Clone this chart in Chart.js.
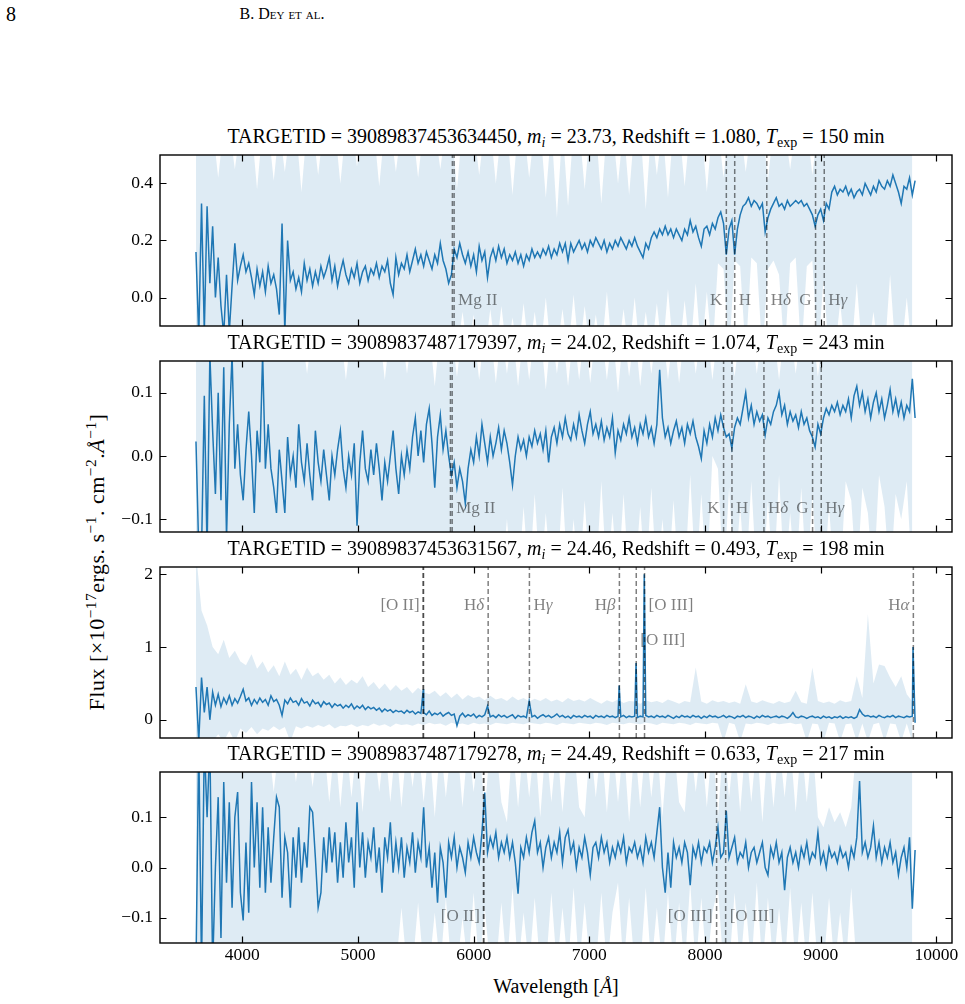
<!DOCTYPE html>
<html lang="en">
<head>
<meta charset="utf-8">
<title>Spectra</title>
<script src="https://cdn.jsdelivr.net/npm/chart.js"></script>
<style>
  body { margin: 0; width: 965px; height: 1004px; position: relative; overflow: hidden; background: #fff;
         font-family: "Liberation Serif", "Times New Roman", serif; color: #000; }
  .txt { position: absolute; white-space: nowrap; }
  .ptitle { left: 160px; width: 792px; text-align: center; font-size: 20px; line-height: 20px; }
  sub { font-size: 70%; vertical-align: -0.3em; line-height: 0; }
  sup { font-size: 70%; vertical-align: 0.5em; line-height: 0; }
  canvas { position: absolute; left: 0; }
</style>
</head>
<body>

<div class="txt" style="left:6px; top:4px; font-size:20px; line-height:20px;">8</div>
<div class="txt" style="left:182px; width:200px; text-align:center; top:6px; font-size:16px; line-height:16px; font-variant:small-caps;">B. Dey et al.</div>
<div class="txt" id="ylab" style="left:97px; top:562px; font-size:22px; line-height:22px; letter-spacing:0.5px; transform:translate(-50%,-50%) rotate(-90deg);">Flux [×10<sup>−17</sup>ergs. s<sup>−1</sup>. cm<sup>−2</sup>.<i>Å</i><sup>−1</sup>]</div>
<div class="txt" style="left:160px; width:792px; text-align:center; top:976px; font-size:20px; line-height:20px;">Wavelength [<i>Å</i>]</div>

<script>
// ---- data ----
var xTicks = [4000, 5000, 6000, 7000, 8000, 9000, 10000];
var WAVE0 = 3600, DWAVE = 24, BAND_DWAVE = 48;   // sampling of the spectra / error band

var targetIds = ['39089837453634450', '39089837487179397', '39089837453631567', '39089837487179278'];
var magI = ['23.73', '24.02', '24.46', '24.49'];
var redshifts = [1.080, 1.074, 0.493, 0.633];
var texpMin = [150, 243, 198, 217];

var yTicksA = [0, 0.2, 0.4];
var yTicksB = [-0.1, 0, 0.1];
var yTicksC = [0, 1, 2];
var yTicksD = [-0.1, 0, 0.1];

var fluxA = [
 .16,-.14,.33,-.12,.32,.05,.25,0,.14,-.03,
 -.13,.08,-.12,.04,.19,.06,.11,.15,.09,.12,
 .07,.01,.10,.04,.09,.02,.11,.05,.08,.03,
 -.06,.26,-.12,.20,.06,.09,.03,.07,.02,.12,
 .06,.10,.04,.09,.05,.11,.07,.10,.14,.06,
 .11,.04,.09,.13,.08,.05,.10,.07,.12,.05,
 .09,.11,.06,.10,.08,.12,.07,.11,.09,.13,
 .05,.01,.14,.08,.12,.10,.15,.09,.13,.17,
 .12,.15,.11,.16,.13,.10,.15,.12,.19,.13,
 .10,.05,.08,.17,.14,.19,.15,.12,.16,.11,
 .15,.09,.18,.13,.16,.07,.14,.17,.13,.18,
 .14,.17,.12,.15,.13,.16,.12,.15,.11,.15,
 .13,.17,.14,.16,.14,.17,.15,.18,.14,.17,
 .15,.19,.16,.19,.13,.19,.16,.18,.20,.17,
 .19,.16,.20,.18,.21,.19,.17,.20,.16,.19,
 .17,.20,.18,.21,.19,.17,.20,.18,.21,.18,
 .16,.14,.19,.17,.21,.23,.21,.24,.22,.25,
 .22,.24,.21,.24,.22,.20,.24,.22,.27,.23,
 .25,.21,.18,.24,.25,.22,.26,.24,.28,.30,
 .26,.15,.24,.27,.15,.24,.29,.32,.33,.35,
 .32,.34,.33,.31,.33,.23,.28,.31,.33,.35,
 .32,.33,.31,.34,.32,.33,.34,.33,.34,.32,
 .33,.31,.29,.25,.29,.31,.27,.33,.31,.37,
 .39,.36,.38,.37,.39,.36,.38,.35,.37,.38,
 .36,.40,.38,.36,.39,.37,.41,.39,.38,.41,
 .39,.43,.40,.37,.33,.39,.38,.42,.36,.41
];
var bandHiA = [
 .6,.6,.6,.6,.42,.6,.6,.45,.6,.6,
 .6,.38,.6,.6,.41,.6,.44,.6,.6,.37,
 .6,.6,.43,.6,.6,.6,.40,.6,.6,.46,
 .6,.6,.6,.39,.6,.6,.44,.6,.6,.6,
 .42,.6,.6,.6,.45,.6,.6,.38,.6,.6,
 .6,.43,.6,.6,.40,.6,.6,.36,.6,.6,
 .42,.6,.6,.35,.6,.28,.6,.32,.6,.6,
 .38,.6,.6,.33,.6,.6,.40,.6,.36,.6,
 .6,.31,.6,.43,.6,.35,.6,.6,.39,.6,
 .6,.6,.37,.6,.6,.42,.6,.6,.6,.44,
 .6,.6,.6,.41,.6,.6,.6,.45,.6,.6,
 .6,.43,.6,.6,.6,.6,.6,.6,.6,.6,
 .6,.6,.6,.6,.6,.6,.6,.6,.6,.6
];
var bandLoA = [
 -.2,-.2,-.2,-.2,-.2,-.2,-.2,-.2,-.2,-.2,
 -.2,-.2,-.2,-.2,-.2,-.2,-.2,-.2,-.2,-.2,
 -.2,-.2,-.2,-.2,-.2,-.2,-.2,-.2,-.2,-.2,
 -.2,-.2,-.2,-.2,-.2,-.2,-.2,-.2,-.2,-.2,
 -.2,-.2,-.2,-.2,-.2,-.2,-.2,-.2,-.05,-.2,
 -.06,-.2,-.2,-.04,-.2,-.03,-.2,-.07,-.2,-.02,
 -.2,-.05,-.2,0,-.2,-.2,-.04,-.2,.01,-.2,
 -.03,-.2,-.06,-.2,.02,-.2,-.2,-.04,-.2,0,
 -.2,-.05,-.2,-.02,-.2,.03,-.2,-.2,-.01,-.2,
 .05,-.2,.02,-.2,.12,.10,-.2,.13,.11,-.2,
 .14,.12,-.2,.10,.13,.08,-.2,.12,.14,-.2,
 .11,.13,-.2,.06,-.2,-.2,-.02,-.2,-.2,.05,
 -.2,-.2,-.05,-.2,-.2,.08,-.2,-.2,0,-.2
];

var fluxB = [
 .023,-.15,-.15,.095,-.15,.16,.04,-.06,.10,-.07,
 .14,-.13,.05,.16,-.02,.05,-.03,-.07,.01,.07,
 0,-.09,.04,-.01,.16,-.02,.05,-.02,-.05,-.09,
 .01,-.04,-.09,.03,-.03,0,-.05,.05,-.01,-.04,
 .02,-.03,-.07,.04,-.01,-.04,.01,-.03,-.07,0,
 -.03,.01,.04,-.02,-.05,0,-.03,.02,-.11,-.01,
 .04,-.02,-.04,.01,-.03,.02,-.02,-.07,-.01,-.04,
 0,.04,-.02,-.06,0,-.03,.01,-.02,.03,.06,
 0,.04,-.01,.05,.075,.02,-.05,.03,.065,.01,
 .04,0,-.03,-.01,-.05,-.02,-.04,-.075,-.02,.01,
 -.01,.03,0,.05,.02,-.01,.03,0,.02,.045,
 .01,.04,.02,-.01,-.046,0,.03,.01,.025,0,
 .03,.015,.04,.02,.035,.01,.04,-.01,.03,.045,
 .02,.05,.03,.06,.035,.025,.05,.03,.065,.04,
 .02,.05,.07,.035,.05,.03,.055,.025,.045,.03,
 .06,.005,.04,.025,.05,.035,.06,.03,.045,.02,
 .05,.035,.06,.03,.045,.02,.05,.136,.06,.03,
 .045,.02,.04,.055,.03,.045,.02,.05,.035,.055,
 .03,.015,-.004,.04,.02,.05,.03,.06,.04,.065,
 .045,.03,.035,.012,.045,.06,.05,.075,.1,.06,
 .08,.05,.07,.055,.065,.033,.06,.05,.07,.08,
 .1,.065,.08,.05,.07,.055,.065,.045,.07,.05,
 .06,.04,.03,.014,.05,.035,.06,.075,.065,.08,
 .07,.085,.065,.08,.07,.09,.06,.095,.11,.08,
 .1,.07,.09,.06,.085,.1,.07,.09,.06,.08,
 .105,.07,.09,.065,.085,.06,.08,.07,.122,.06
];
var bandHiB = [
 .2,.2,.2,.2,.2,.2,.2,.2,.2,.2,
 .2,.2,.2,.2,.2,.2,.2,.2,.2,.2,
 .13,.2,.2,.2,.2,.2,.2,.12,.2,.2,
 .2,.2,.2,.2,.12,.2,.2,.2,.13,.2,
 .2,.2,.2,.11,.2,.2,.2,.125,.2,.2,
 .2,.12,.2,.2,.115,.2,.13,.2,.11,.2,
 .12,.2,.2,.105,.2,.13,.2,.11,.2,.12,
 .2,.115,.2,.2,.12,.2,.1,.2,.125,.2,
 .11,.2,.13,.2,.2,.12,.2,.115,.2,.2,
 .13,.2,.2,.12,.2,.2,.2,.125,.2,.2,
 .2,.13,.2,.2,.2,.12,.2,.2,.13,.2,
 .2,.2,.125,.2,.2,.2,.2,.2,.2,.2,
 .2,.2,.2,.2,.2,.2,.2,.2,.2,.2
];
var bandLoB = [
 -.2,-.2,-.2,-.2,-.2,-.2,-.2,-.2,-.2,-.2,
 -.2,-.2,-.2,-.2,-.2,-.2,-.2,-.2,-.2,-.2,
 -.2,-.2,-.2,-.2,-.2,-.2,-.2,-.2,-.2,-.2,
 -.2,-.2,-.2,-.2,-.2,-.2,-.2,-.2,-.2,-.2,
 -.2,-.2,-.2,-.2,-.2,-.2,-.2,-.2,-.2,-.2,
 -.2,-.2,-.2,-.2,-.2,-.2,-.1,-.2,-.2,-.08,
 -.2,-.06,-.2,-.09,-.2,-.2,-.05,-.2,-.1,-.2,
 -.07,-.2,-.2,-.04,-.2,-.09,-.2,-.06,-.2,-.2,
 -.08,-.2,-.05,-.2,-.1,-.2,-.07,-.2,-.2,-.03,
 -.2,-.06,-.2,0,-.02,-.2,-.05,-.2,-.08,-.2,
 -.04,-.2,-.2,-.07,-.2,-.03,-.2,-.09,-.2,-.05,
 -.2,-.06,-.2,-.2,-.08,-.2,-.2,-.04,-.07,-.2,
 -.05,-.09,-.2,-.03,-.08,-.2,-.06,-.1,-.04,-.2
];

var fluxC = [
 .45,-.3,.58,.1,.45,0,.38,.2,.35,.18,
 .3,.22,.33,.2,.29,.23,.32,.42,.26,.3,
 .2,.28,.22,.3,.24,.28,.2,.33,.25,.28,
 .2,.06,.27,.22,.3,.24,.26,.2,.29,.23,
 .25,.19,.27,.22,.24,.18,.25,.21,.23,.17,
 .22,.19,.21,.16,.2,.17,.22,.15,.19,.16,
 .2,.14,.18,.15,.17,.13,.16,.11,.15,.12,
 .14,.1,.13,.11,.12,.09,.13,.1,.12,.08,
 .11,.09,.1,.07,.12,.06,.09,.07,.1,.05,
 .08,.1,.06,.08,-.08,.05,.09,.04,.07,.05,
 .08,.03,.06,.04,.07,.19,.04,.06,.03,.07,
 .04,.06,.03,.05,.07,.02,.06,.04,.05,.03,
 .26,.04,.06,.02,.05,.07,.04,.06,.03,.05,
 .08,.04,.06,.03,.05,.02,.06,.04,.05,.03,
 .06,.04,.05,.02,.06,.04,.05,.03,.06,.04,
 .05,.03,.05,.04,.06,.03,.05,.04,.05,.03,
 .05,.04,.06,.04,.05,.03,.06,.04,.05,.03,
 .06,.04,.02,.05,.03,.06,.04,.05,.03,.06,
 .04,.05,.02,.05,.03,.06,.04,.05,.03,.04,
 .06,.03,.05,.04,.02,.05,.04,.06,.03,.05,
 .04,.02,.05,.03,.06,.04,.05,.03,.04,.05,
 .03,.05,.04,.02,.05,.1,.04,.03,.05,.04,
 .02,.04,.05,.03,.04,.02,.05,.03,.04,.02,
 .04,.03,.05,.02,.04,.03,.04,.02,.04,.14,
 .08,.05,.06,.04,.05,.03,.06,.04,.03,.05,
 .04,.06,.03,.05,.04,.03,.05,.04,.05,-.04
];
// narrow emission peaks of the third spectrum
var peakWaveC = [5565, 7258, 7404, 7475, 9798];
var peakFluxC = [0.42, 0.47, 0.78, 2.0, 1.0];
var bandHiC = [
 2.3,1.5,1.3,1.0,.9,1.1,.85,.95,.8,.75,
 .9,.7,.8,.65,.75,.6,.8,.62,.7,.55,
 .72,.6,.65,.55,.62,.5,.58,.48,.55,.5,
 .6,.45,.52,.42,.5,.4,.48,.4,.45,.36,
 .44,.38,.35,.4,.32,.38,.3,.36,.28,.34,
 .3,.32,.27,.33,.28,.3,.26,.32,.27,.3,
 .25,.29,.26,.3,.25,.28,.24,.3,.26,.28,
 .25,.3,.26,.22,.27,.24,.28,.23,.26,.25,
 .22,.27,.24,.26,.23,.28,.25,.22,.26,.24,
 .72,.25,.22,.27,.24,.26,.23,.25,.22,.49,
 .25,.23,.27,.24,.22,.26,.23,.25,.4,.24,
 .22,.72,.26,.23,.25,.22,.27,.24,.26,.6,
 .3,1.45,.5,.76,.74,.58,.45,.6,.35,.25
];
var bandLoC = [
 -.3,-.3,-.3,-.3,-.2,-.3,-.15,-.3,-.12,-.18,
 -.1,-.2,-.12,-.15,-.09,-.14,-.1,-.3,-.09,-.12,
 -.08,-.11,-.07,-.1,-.06,-.12,-.08,-.09,-.06,-.1,
 -.07,-.09,-.05,-.08,-.06,-.1,-.05,-.07,-.06,-.08,
 -.05,-.07,-.04,-.06,-.05,-.08,-.04,-.06,-.05,-.07,
 -.04,-.06,-.05,-.07,-.04,-.05,-.06,-.04,-.05,-.06,
 -.04,-.05,-.06,-.04,-.05,-.07,-.04,-.05,-.06,-.04,
 -.05,-.06,-.04,-.05,-.07,-.04,-.05,-.06,-.04,-.05,
 -.06,-.04,-.05,-.07,-.04,-.05,-.06,-.04,-.05,-.07,
 -.04,-.05,-.06,-.04,-.05,-.3,-.04,-.06,-.3,-.05,
 -.06,-.04,-.05,-.07,-.04,-.06,-.05,-.04,-.06,-.05,
 -.3,-.05,-.06,-.3,-.04,-.05,-.3,-.06,-.05,-.3,
 -.05,-.3,-.06,-.04,-.3,-.05,-.06,-.3,-.05,-.3
];

var fluxD = [
 -.2,.25,-.2,.25,.1,.25,-.2,0,.14,-.14,
 .17,-.03,.13,-.08,.1,.15,-.05,-.105,.05,-.09,
 .17,0,.13,-.04,.12,-.05,.08,-.03,.06,.14,
 .12,-.06,.06,.03,-.08,.06,-.02,.08,-.03,.05,
 0,.12,.11,.02,-.08,-.05,.06,-.01,.08,.01,
 .07,-.03,.05,-.02,.09,.01,.06,-.04,.13,0,
 .07,-.02,.05,.02,.08,-.01,.04,-.05,.06,.02,
 .09,-.01,.05,0,.06,-.02,.04,.01,.07,-.01,
 .05,.02,.12,0,.04,-.04,.03,-.07,.04,.01,
 -.06,.05,.02,.06,0,.04,.02,-.01,.05,.02,
 .06,.03,.01,.07,.149,.03,.06,.04,.07,.02,
 .05,.03,.06,.02,.05,.01,-.052,.04,.02,.06,
 .03,.07,.093,.03,.05,0,.04,.06,.02,.05,
 .03,.07,.01,.06,.075,.03,.05,0,.04,.02,
 .06,.03,-.015,.04,.05,.02,.06,.03,.05,.01,
 .04,.02,.05,.03,.06,.01,.04,.03,.05,.02,
 .04,.01,.06,.03,.05,.02,.07,.12,0,-.05,
 .03,-.04,.05,.02,.04,.01,.05,.03,-.035,.04,
 .02,.05,.01,.04,.03,.05,.01,.04,.08,.02,
 .03,.113,.02,.04,.06,.01,.03,.02,.05,0,
 .03,.04,.01,.03,.05,0,-.015,.04,.02,.05,
 .01,.03,-.045,.02,.04,.01,.03,0,.04,.02,
 .05,.01,.03,.02,.07,.01,.03,0,.04,.02,
 .03,.01,.04,.02,.03,0,.04,.02,.06,.172,
 .03,.05,.02,.04,.083,.02,.05,.01,.04,.02,
 .05,.01,.03,-.015,.02,.04,0,.06,-.082,.035
];
var bandHiD = [
 .25,.25,.25,.25,.25,.25,.25,.25,.25,.25,
 .25,.25,.25,.25,.15,.25,.25,.25,.17,.25,
 .25,.16,.25,.25,.13,.25,.12,.25,.14,.25,
 .11,.25,.25,.15,.25,.13,.25,.12,.25,.16,
 .25,.13,.25,.1,.25,.14,.25,.25,.12,.25,
 .15,.25,.11,.25,.25,.13,.09,.25,.12,.25,
 .14,.25,.1,.25,.13,.25,.11,.25,.25,.12,
 .1,.25,.14,.25,.11,.25,.13,.25,.09,.25,
 .12,.25,.14,.25,.1,.25,.25,.13,.11,.25,
 .15,.25,.12,.25,.1,.25,.14,.25,.11,.25,
 .13,.25,.09,.25,.12,.25,.14,.25,.11,.25,
 .13,.25,.1,.08,.12,.09,.11,.08,.12,.25,
 .25,.25,.25,.25,.25,.25,.25,.25,.25,.25
];
var bandLoD = [
 -.2,-.2,-.2,-.2,-.2,-.2,-.2,-.2,-.2,-.2,
 -.2,-.2,-.2,-.2,-.2,-.2,-.2,-.2,-.2,-.2,
 -.2,-.2,-.2,-.2,-.2,-.2,-.2,-.2,-.2,-.2,
 -.2,-.2,-.2,-.2,-.2,-.2,-.2,-.08,-.2,-.2,
 -.07,-.2,-.2,-.09,-.2,-.06,-.2,-.2,-.1,-.2,
 -.05,-.2,-.08,-.2,-.2,-.07,-.2,-.04,-.2,-.09,
 -.2,-.06,-.2,-.2,-.05,-.2,-.08,-.2,-.04,-.2,
 -.07,-.2,-.2,-.05,-.2,-.09,-.03,-.2,-.06,-.2,
 -.2,-.04,-.2,-.08,-.2,-.05,-.2,-.07,-.2,-.03,
 -.2,-.06,-.2,-.09,-.04,-.2,-.2,-.05,-.2,-.07,
 -.2,-.03,-.2,-.06,-.2,-.08,-.2,-.04,-.2,-.07,
 -.2,-.05,-.2,-.2,-.06,-.2,-.09,-.2,-.04,-.2,
 -.2,-.2,-.2,-.2,-.2,-.2,-.2,-.2,-.2,-.2
];

// marked lines: rest wavelength, label, label side (-1 left / 1 right), label height (fraction of axis)
var linesAbs = [[2796.35, '', 1], [2803.53, 'Mg II', 1], [3934.78, 'K', -1], [3969.59, 'H', 1],
                [4102.89, 'Hδ', 1], [4305.61, 'G', -1], [4341.68, 'Hγ', 1]];
var linesC = [[3726.03, '', -1, .776], [3728.82, '[O II]', -1, .776], [4102.89, 'Hδ', -1, .776], [4341.68, 'Hγ', 1, .776],
              [4862.68, 'Hβ', -1, .776], [4960.30, '[O III]', 1, .57], [5008.24, '[O III]', 1, .776], [6564.61, 'Hα', -1, .776]];
var linesD = [[3726.03, '', -1, .154], [3728.82, '[O II]', -1, .154], [4960.30, '[O III]', -1, .154], [5008.24, '[O III]', 1, .154]];

// ---- drawing ----
var FONT = '"Liberation Serif", "Times New Roman", serif';
var spineTop = [155, 361, 567, 772];
var PLOT_H = 171, PAD = 8, XAXIS_H = 40;

var panels = [
  {flux: fluxA, hi: bandHiA, lo: bandLoA, ymin: -0.1, ymax: 0.5, yTicks: yTicksA, dec: 1,
   lines: linesAbs.map(function (l) { return l.concat([0.15]); })},
  {flux: fluxB, hi: bandHiB, lo: bandLoB, ymin: -0.12, ymax: 0.15, yTicks: yTicksB, dec: 1,
   lines: linesAbs.map(function (l) { return l.concat([0.14]); })},
  {flux: fluxC, hi: bandHiC, lo: bandLoC, ymin: -0.25, ymax: 2.1, yTicks: yTicksC, dec: 0, lines: linesC,
   peaks: [peakWaveC, peakFluxC]},
  {flux: fluxD, hi: bandHiD, lo: bandLoD, ymin: -0.15, ymax: 0.19, yTicks: yTicksD, dec: 1, lines: linesD}
];

function fmtTick(v, dec) {
  return v.toFixed(dec).replace('-', '\u2212');
}

function drawLabel(ctx, text, x, y, side) {
  var runs = /^H[αβγδ]$/.test(text) ? [['H', ''], [text.charAt(1), 'italic ']] : [[text, '']];
  var widths = runs.map(function (r) { ctx.font = r[1] + '17px ' + FONT; return ctx.measureText(r[0]).width; });
  var total = widths.reduce(function (a, b) { return a + b; }, 0);
  var cx = side < 0 ? x - total : x;
  ctx.textAlign = 'left';
  ctx.textBaseline = 'middle';
  runs.forEach(function (r, n) {
    ctx.font = r[1] + '17px ' + FONT;
    ctx.fillText(r[0], cx, y);
    cx += widths[n];
  });
}

function framePlugin(p, z) {
  return {
    id: 'specFrame',
    afterDatasetsDraw: function (chart) {
      var ctx = chart.ctx, a = chart.chartArea, xs = chart.scales.x, ys = chart.scales.y;
      ctx.save();
      ctx.beginPath();
      ctx.rect(a.left, a.top, a.right - a.left, a.bottom - a.top);
      ctx.clip();
      // dashed line markers
      ctx.setLineDash([5, 3]);
      ctx.strokeStyle = 'rgba(0,0,0,0.5)';
      ctx.lineWidth = 1.5;
      p.lines.forEach(function (l) {
        var px = xs.getPixelForValue(l[0] * (1 + z));
        ctx.beginPath();
        ctx.moveTo(px, a.bottom);
        ctx.lineTo(px, a.top);
        ctx.stroke();
      });
      ctx.setLineDash([]);
      ctx.fillStyle = 'rgba(0,0,0,0.5)';
      p.lines.forEach(function (l) {
        if (!l[1]) return;
        var px = xs.getPixelForValue(l[0] * (1 + z));
        var py = a.bottom - l[3] * (a.bottom - a.top);
        drawLabel(ctx, l[1], px + l[2] * 4, py, l[2]);
      });
      ctx.restore();

      // frame and inward ticks
      ctx.save();
      ctx.strokeStyle = '#000';
      ctx.lineWidth = 1.2;
      var TL = 6.5;
      ctx.beginPath();
      xTicks.forEach(function (v) {
        var px = Math.round(xs.getPixelForValue(v)) + 0.5;
        ctx.moveTo(px, a.bottom); ctx.lineTo(px, a.bottom - TL);
        ctx.moveTo(px, a.top); ctx.lineTo(px, a.top + TL);
      });
      p.yTicks.forEach(function (v) {
        var py = Math.round(ys.getPixelForValue(v)) + 0.5;
        ctx.moveTo(a.left, py); ctx.lineTo(a.left + TL, py);
        ctx.moveTo(a.right, py); ctx.lineTo(a.right - TL, py);
      });
      ctx.stroke();
      ctx.lineWidth = 1.4;
      ctx.strokeRect(a.left, a.top, a.right - a.left, a.bottom - a.top);
      ctx.restore();
    }
  };
}

panels.forEach(function (p, k) {
  var last = k === panels.length - 1;
  var z = redshifts[k];

  var title = document.createElement('div');
  title.className = 'txt ptitle';
  title.style.top = (spineTop[k] - 29) + 'px';
  title.innerHTML = 'TARGETID = ' + targetIds[k] + ', <i>m<sub>i</sub></i> = ' + magI[k] +
    ', Redshift = ' + z.toFixed(3) + ', <i>T</i><sub>exp</sub> = ' + texpMin[k] + ' min';
  document.body.appendChild(title);

  var canvas = document.createElement('canvas');
  canvas.width = 965;
  canvas.height = PAD + PLOT_H + (last ? XAXIS_H : PAD);
  canvas.style.top = (spineTop[k] - PAD) + 'px';
  document.body.appendChild(canvas);

  var pts = p.flux.map(function (v, i) { return {x: WAVE0 + DWAVE * i, y: v}; });
  if (p.peaks) {
    p.peaks[0].forEach(function (w, n) { pts.push({x: w, y: p.peaks[1][n]}); });
    pts.sort(function (a, b) { return a.x - b.x; });
  }
  var hi = p.hi.map(function (v, j) { return {x: WAVE0 + BAND_DWAVE * j, y: v}; });
  var lo = p.lo.map(function (v, j) { return {x: WAVE0 + BAND_DWAVE * j, y: v}; });

  new Chart(canvas, {
    type: 'line',
    data: {
      datasets: [
        {data: pts, borderColor: '#1f77b4', borderWidth: 1.5, pointRadius: 0, fill: false, tension: 0},
        {data: hi, borderWidth: 0, borderColor: 'rgba(0,0,0,0)', pointRadius: 0, fill: '+1',
         backgroundColor: 'rgba(31,119,180,0.15)', tension: 0},
        {data: lo, borderWidth: 0, borderColor: 'rgba(0,0,0,0)', pointRadius: 0, fill: false, tension: 0}
      ]
    },
    options: {
      responsive: false,
      animation: false,
      devicePixelRatio: 1,
      events: [],
      layout: {padding: {left: 0, right: 13, top: PAD, bottom: last ? 0 : PAD}},
      plugins: {legend: {display: false}, tooltip: {enabled: false}, title: {display: false}},
      scales: {
        x: {
          type: 'linear', min: 3289, max: 10135, display: last,
          grid: {display: false, drawTicks: false}, border: {display: false},
          afterBuildTicks: function (s) { s.ticks = xTicks.map(function (v) { return {value: v}; }); },
          afterFit: function (s) {
            s.height = last ? XAXIS_H : 0;
            s.paddingLeft = 0; s.paddingRight = 0;
          },
          ticks: {autoSkip: false, maxRotation: 0, padding: 2, color: '#000',
                  font: {family: FONT, size: 17.5},
                  callback: function (v) { return String(v); }}
        },
        y: {
          min: p.ymin, max: p.ymax,
          grid: {display: false, drawTicks: false}, border: {display: false},
          afterBuildTicks: function (s) { s.ticks = p.yTicks.map(function (v) { return {value: v}; }); },
          afterFit: function (s) {
            s.width = 160;
            s.paddingTop = 0; s.paddingBottom = 0;
          },
          ticks: {padding: 7, color: '#000', font: {family: FONT, size: 17.5},
                  callback: function (v) { return fmtTick(v, p.dec); }}
        }
      }
    },
    plugins: [framePlugin(p, z)]
  });
});
</script>
</body>
</html>
